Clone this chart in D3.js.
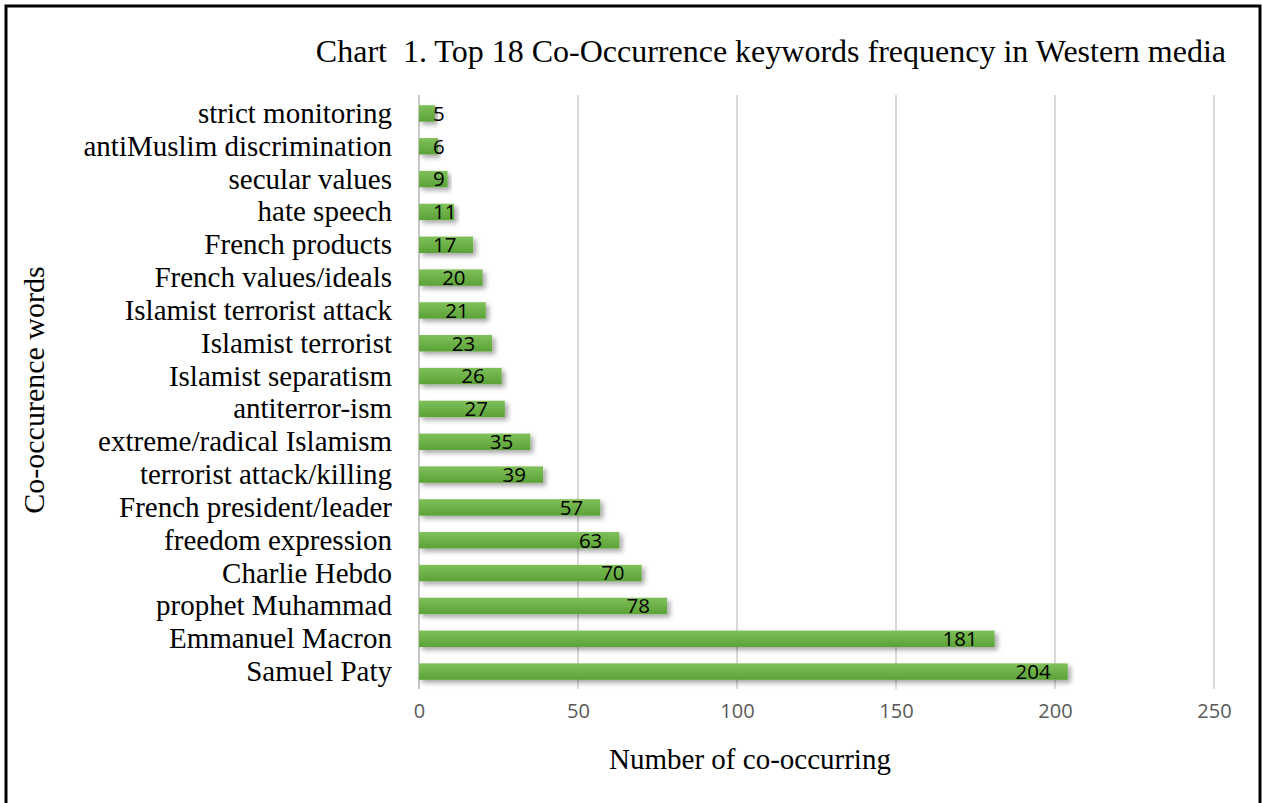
<!DOCTYPE html>
<html>
<head>
<meta charset="utf-8">
<script src="https://cdn.jsdelivr.net/npm/d3@7"></script>
<style>
  html, body { margin: 0; padding: 0; background: #fff; }
  svg { display: block; }
</style>
</head>
<body>
<script>
// Keyword co-occurrence counts, top to bottom as drawn
const categories = [
  "strict monitoring", "antiMuslim discrimination", "secular values", "hate speech",
  "French products", "French values/ideals", "Islamist terrorist attack", "Islamist terrorist",
  "Islamist separatism", "antiterror-ism", "extreme/radical Islamism", "terrorist attack/killing",
  "French president/leader", "freedom expression", "Charlie Hebdo ", "prophet Muhammad",
  "Emmanuel Macron", "Samuel Paty"
];
const values = [5, 6, 9, 11, 17, 20, 21, 23, 26, 27, 35, 39, 57, 63, 70, 78, 181, 204];
const xTicks = [0, 50, 100, 150, 200, 250];

const titleText = "Chart  1. Top 18 Co-Occurrence keywords frequency in Western media";
const xTitle = "Number of co-occurring";
const yTitle = "Co-occurence words";

const W = 1262, H = 803;
const margin = { left: 419, right: 48, top: 97, bottom: 115 };
const serif = "'Liberation Serif', 'Times New Roman', serif";
const sans = "'Open Sans', sans-serif";

const svg = d3.select("body").append("svg")
  .attr("width", W).attr("height", H);

const defs = svg.append("defs");
const grad = defs.append("linearGradient")
  .attr("id", "barFill").attr("x1", 0).attr("y1", 0).attr("x2", 0).attr("y2", 1);
grad.append("stop").attr("offset", "0%").attr("stop-color", "#80c05a");
grad.append("stop").attr("offset", "100%").attr("stop-color", "#5aa236");

const shadow = defs.append("filter").attr("id", "barShadow")
  .attr("x", "-5%").attr("y", "-60%").attr("width", "120%").attr("height", "240%");
shadow.append("feDropShadow")
  .attr("dx", 3).attr("dy", 3).attr("stdDeviation", 2.5)
  .attr("flood-color", "#000").attr("flood-opacity", 0.35);

const x = d3.scaleLinear().domain([0, 250]).range([margin.left, W - margin.right]);
const y = d3.scaleBand().domain(categories)
  .range([margin.top, H - margin.bottom]).paddingInner(0.5).paddingOuter(0.25);

// Gridlines
svg.append("g").selectAll("line").data(xTicks).join("line")
  .attr("x1", d => x(d)).attr("x2", d => x(d))
  .attr("y1", margin.top - 2).attr("y2", H - margin.bottom + 1)
  .attr("stroke", d => d === 0 ? "#c8c8c8" : "#d9d9d9")
  .attr("stroke-width", 2);

// X axis tick labels
const xAxis = d3.axisBottom(x).tickValues(xTicks).tickSize(0).tickPadding(0);
const gx = svg.append("g").attr("transform", `translate(0,${H - margin.bottom + 16})`).call(xAxis);
gx.select(".domain").remove();
gx.selectAll("text")
  .attr("font-family", sans)
  .attr("font-size", 20).attr("fill", "#595959").attr("dy", "0.71em");

// Y axis category labels
const yAxis = d3.axisLeft(y).tickSize(0).tickPadding(27);
const gy = svg.append("g").attr("transform", `translate(${margin.left},0)`).call(yAxis);
gy.select(".domain").remove();
gy.selectAll("text")
  .attr("font-family", serif)
  .attr("font-size", 29).attr("fill", "#000").attr("dy", "0.33em");

// Bars
svg.append("g").selectAll("rect").data(values).join("rect")
  .attr("x", x(0))
  .attr("y", (d, i) => y(categories[i]))
  .attr("width", d => x(d) - x(0))
  .attr("height", y.bandwidth())
  .attr("fill", "url(#barFill)")
  .attr("filter", "url(#barShadow)");

// Value labels, placed inside the bar end
const labels = svg.append("g").selectAll("text").data(values).join("text")
  .attr("font-family", sans)
  .attr("font-size", 20.5).attr("fill", "#000")
  .attr("y", (d, i) => y(categories[i]) + y.bandwidth() / 2)
  .attr("dy", "0.36em")
  .text(d => d);
labels.each(function (d) {
  const t = d3.select(this);
  const w = this.getComputedTextLength();
  const right = x(d) - 17;
  const minLeft = x(0) + 14;
  if (right - w < minLeft) t.attr("x", minLeft).attr("text-anchor", "start");
  else t.attr("x", right).attr("text-anchor", "end");
});

// Titles
svg.append("text")
  .attr("x", 1226).attr("y", 62).attr("text-anchor", "end")
  .style("white-space", "pre")
  .attr("font-family", serif)
  .attr("font-size", 32).attr("fill", "#000")
  .text(titleText);

svg.append("text")
  .attr("x", 750).attr("y", 769).attr("text-anchor", "middle")
  .attr("font-family", serif)
  .attr("font-size", 29).attr("fill", "#000")
  .text(xTitle);

svg.append("text")
  .attr("transform", "translate(44,390) rotate(-90)")
  .attr("text-anchor", "middle")
  .attr("font-family", serif)
  .attr("font-size", 30).attr("fill", "#000")
  .text(yTitle);

// Frame
svg.append("path")
  .attr("d", `M6,${H + 5} L6,6 L1260,6 L1260,${H + 5}`)
  .attr("fill", "none").attr("stroke", "#000").attr("stroke-width", 3);
</script>
</body>
</html>
